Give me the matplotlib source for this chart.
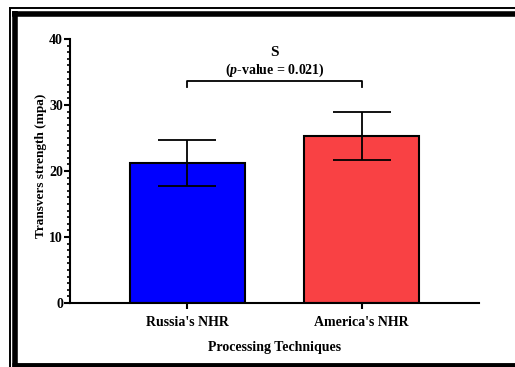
import matplotlib.pyplot as plt
from matplotlib.lines import Line2D
from matplotlib.ticker import MultipleLocator

# data
groups = ["Russia's NHR", "America's NHR"]
means = [21.2, 25.3]
sds = [3.5, 3.6]
bar_colors = ['#0000FF', '#F94144']
bracket_y = [32.7, 33.6]
sig_label = 'S'
p_label = '($\\mathit{p}$-value = 0.021)'

plt.rcParams['font.family'] = ['Liberation Serif', 'DejaVu Serif']
plt.rcParams['font.weight'] = 'bold'
plt.rcParams['mathtext.fontset'] = 'custom'
plt.rcParams['mathtext.it'] = 'Liberation Serif:italic:bold'
plt.rcParams['mathtext.rm'] = 'Liberation Serif:bold'

W, H = 515, 367
fig = plt.figure(figsize=(W / 100, H / 100), dpi=100)
ax = fig.add_axes([70 / W, 1 - 303 / H, (479 - 70) / W, (303 - 39) / H])

x = list(range(len(groups)))
ax.bar(x, means, width=0.66, color=bar_colors, edgecolor='black', linewidth=1.5, zorder=2)
ax.errorbar(x, means, yerr=sds, fmt='none', ecolor='black', elinewidth=1.3,
            capsize=21, capthick=1.3, zorder=3)

ax.set_xlim(-0.675, 1.675)
ax.set_ylim(0, 40)
ax.set_xticks(x)
ax.set_xticklabels(groups, fontsize=10, fontweight='bold')
ax.yaxis.set_major_locator(MultipleLocator(10))
ax.yaxis.set_minor_locator(MultipleLocator(1))
ax.tick_params(axis='y', which='major', length=4, width=1.5, labelsize=10, pad=1)
ax.tick_params(axis='y', which='minor', length=2.5, width=1.2)
ax.tick_params(axis='x', which='major', length=4, width=1.5, pad=5)
for lab in ax.get_yticklabels():
    lab.set_fontweight('bold')

for side in ['top', 'right']:
    ax.spines[side].set_visible(False)
for side in ['left', 'bottom']:
    ax.spines[side].set_linewidth(1.5)

ax.set_ylabel('Transvers strength (mpa)', fontsize=9.5, fontweight='bold')
ax.yaxis.set_label_coords(-0.056, 0.52)
ax.set_xlabel('Processing Techniques', fontsize=10, fontweight='bold', labelpad=9)

# significance bracket
ax.plot([0, 0, 1, 1], [bracket_y[0], bracket_y[1], bracket_y[1], bracket_y[0]],
        color='black', lw=1.3)
ax.text(0.5, 37.9, sig_label, ha='center', va='center', fontsize=11, fontweight='bold')
ax.text(0.5, 35.2, p_label, ha='center', va='center', fontsize=10, fontweight='bold')

# frame around the picture
def px_line(xs, ys, lw):
    fig.add_artist(Line2D([v / W for v in xs], [1 - v / H for v in ys],
                          color='black', lw=lw, transform=fig.transFigure,
                          solid_capstyle='butt'))

px_line([9, W], [8, 8], 1.4)
px_line([10, 10], [7.5, H], 1.4)
px_line([12, W], [13.5, 13.5], 4)
px_line([15, 15], [11, H], 4)
px_line([12, W], [365, 365], 3.5)

fig.savefig('out.png', dpi=100)
